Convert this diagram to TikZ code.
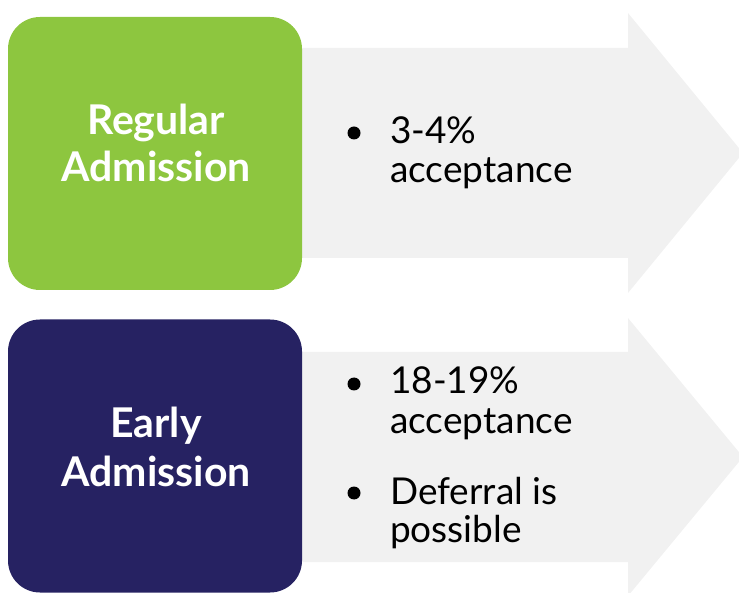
\documentclass[tikz,border=0pt]{standalone}
\usepackage{fontspec}
\setmainfont{Lato}
\definecolor{grn}{HTML}{8DC63F}
\definecolor{navy}{HTML}{262262}
\definecolor{arrowgray}{HTML}{F1F1F1}
\begin{document}
\begin{tikzpicture}[x=1pt,y=-1pt,
  catbox/.style={fill=#1, rounded corners=32pt, minimum width=294pt, minimum height=273pt, inner sep=0},
  title/.style={anchor=base, text=white, font=\fontsize{41}{47}\selectfont\bfseries, inner sep=0},
  item/.style={anchor=base west, text=black, font=\fontsize{37}{40}\selectfont, inner sep=0},
  dot/.style={circle, fill=black, minimum size=13pt, inner sep=0},
  bigarrow/.style={fill=arrowgray}]
\useasboundingbox (0,0) rectangle (739,593);
% arrows
\fill[bigarrow] (290,48) -- (628,48) -- (628,13) -- (743,153) -- (628,293) -- (628,258) -- (290,258) -- cycle;
\fill[bigarrow] (290,352) -- (628,352) -- (628,318) -- (743,457) -- (628,596) -- (628,562) -- (290,562) -- cycle;
% boxes
\node[catbox=grn] (reg) at (155,153.5) {};
\node[catbox=navy] (early) at (155,456) {};
% titles
\node[title] (reg1) at (156,135) {Regular};
\node[title] (reg2) at (156,182) {Admission};
\node[title] (ea1) at (156,438) {Early};
\node[title] (ea2) at (156,486) {Admission};
% bullets
\node[dot] (b1) at (354,133) {};
\node[dot] (b2) at (354,384) {};
\node[dot] (b3) at (354,493) {};
\node[item] (t1) at (390,144) {3-4\%};
\node[item] (t2) at (390,183) {acceptance};
\node[item] (t3) at (390,394) {18-19\%};
\node[item] (t4) at (390,434) {acceptance};
\node[item] (t5) at (390,504) {Deferral is};
\node[item] (t6) at (390,542) {possible};
\end{tikzpicture}
\end{document}
